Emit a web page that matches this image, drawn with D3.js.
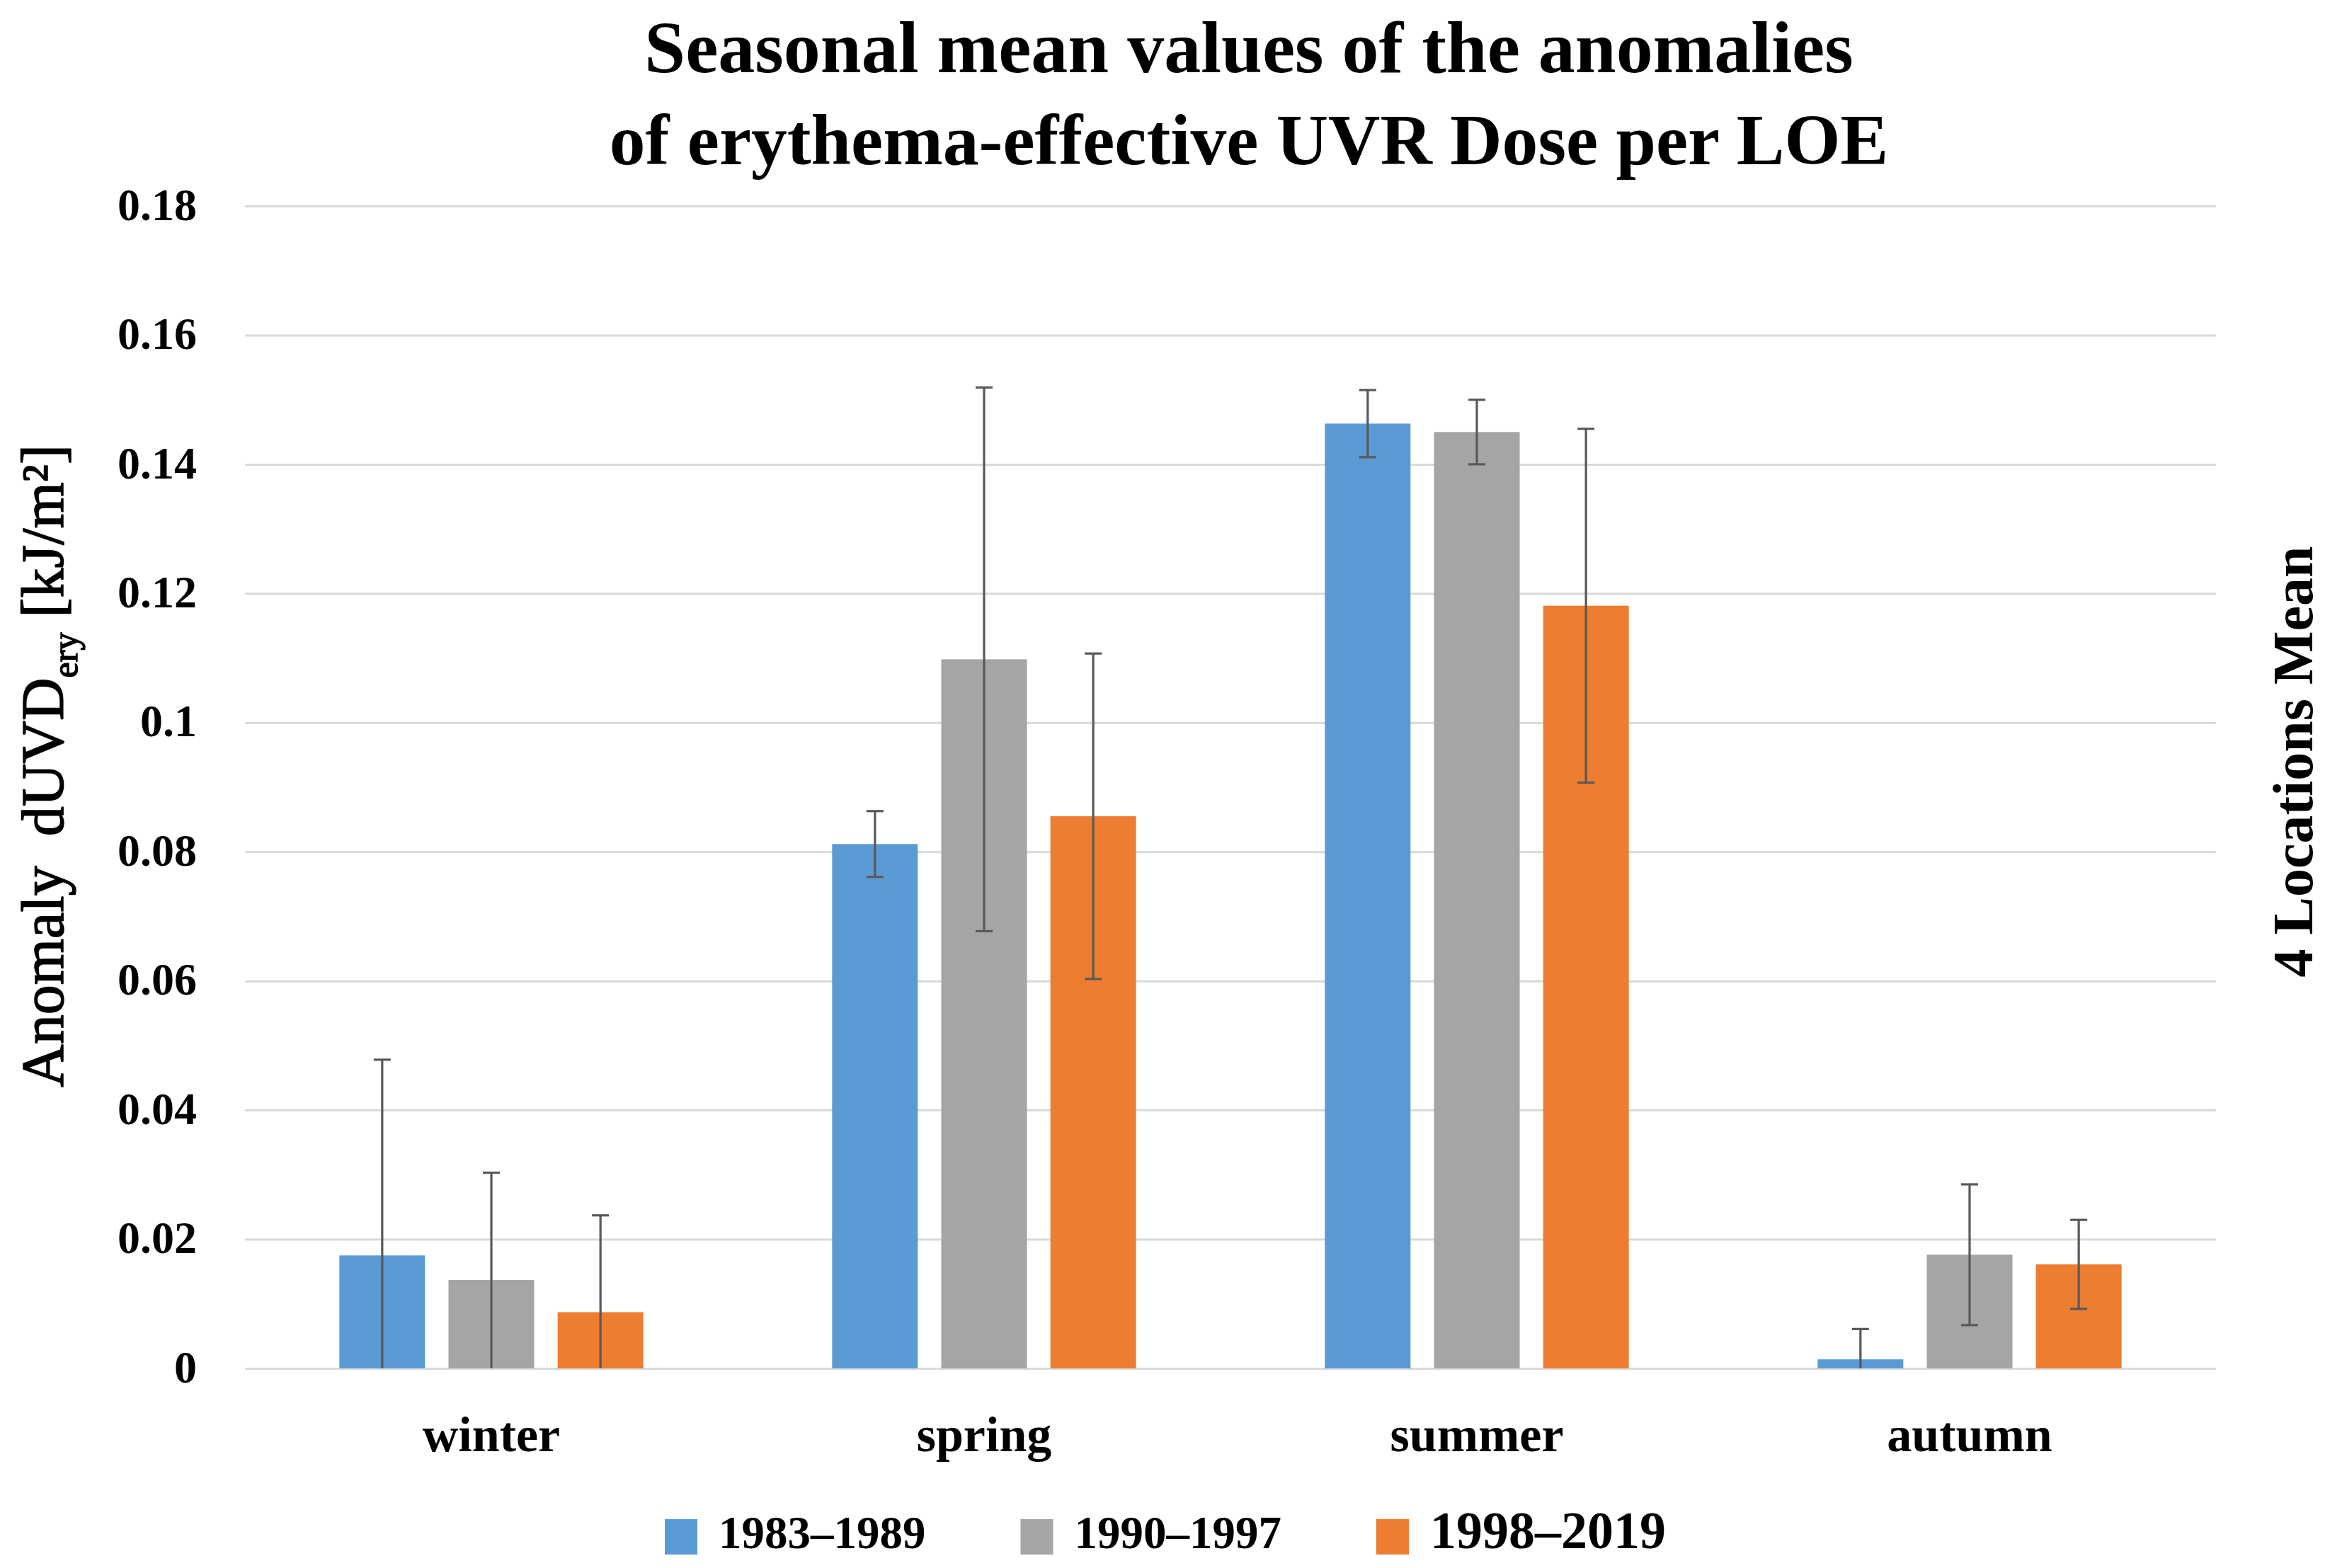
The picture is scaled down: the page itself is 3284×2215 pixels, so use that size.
<!DOCTYPE html>
<html>
<head>
<meta charset="utf-8">
<script src="https://cdn.jsdelivr.net/npm/d3@7"></script>
<style>
  html, body { margin: 0; padding: 0; background: #fff; overflow: hidden; }
  svg { display: block; }
  text { font-family: "Liberation Serif", "Times New Roman", serif; fill: #000; }
  /* the axis title in the original sits between regular and bold, fake it with a thin stroke */
  .semi { stroke: #000; stroke-width: 1.5px; stroke-linejoin: round; }
</style>
</head>
<body>
<svg id="chart"></svg>
<script>
// Chart data
const seasons = ['winter', 'spring', 'summer', 'autumn'];
const periods = ['1983–1989', '1990–1997', '1998–2019'];
const mean1983 = [0.0175, 0.0812, 0.1463, 0.0014];
const mean1990 = [0.0137, 0.1098, 0.1450, 0.0176];
const mean1998 = [0.0087, 0.0855, 0.1181, 0.0161];
const err1983 = [0.0303, 0.0051, 0.0052, 0.0047];
const err1990 = [0.0166, 0.0421, 0.0050, 0.0109];
const err1998 = [0.0150, 0.0252, 0.0274, 0.0069];
const yTickValues = [0, 0.02, 0.04, 0.06, 0.08, 0.1, 0.12, 0.14, 0.16, 0.18];
const colors = ['#5B9BD5', '#A5A5A5', '#ED7D31'];

const width = 3284;
const height = 2215;
const margins = { top: 291, right: 154, bottom: 282, left: 346 };
const innerWidth = width - margins.left - margins.right;
const innerHeight = height - margins.top - margins.bottom;

// flatten into rows the scales can use
const means = [mean1983, mean1990, mean1998];
const errs = [err1983, err1990, err1998];
const rows = [];
seasons.forEach((s, i) => {
  periods.forEach((p, j) => {
    rows.push({ season: s, period: p, value: means[j][i], err: errs[j][i], color: colors[j] });
  });
});

const svg = d3.select('#chart')
  .attr('width', width)
  .attr('height', height);

const g = svg.append('g')
  .attr('transform', `translate(${margins.left},${margins.top})`);

const xScale = d3.scaleBand()
  .domain(seasons)
  .range([0, innerWidth])
  .padding(0);

const xInner = d3.scaleBand()
  .domain(periods)
  .range([0, xScale.bandwidth()])
  .paddingInner(0.215)
  .paddingOuter(0.865);

const yScale = d3.scaleLinear()
  .domain([0, 0.18])
  .range([innerHeight, 0]);

// gridlines + tick labels
const yAxis = d3.axisLeft(yScale)
  .tickValues(yTickValues)
  .tickFormat(d => d === 0 ? '0' : String(+d.toFixed(2)))
  .tickSize(-innerWidth)
  .tickPadding(68);

g.append('g')
  .attr('class', 'y axis')
  .call(yAxis)
  .call(sel => sel.select('.domain').remove())
  .call(sel => sel.selectAll('line').attr('stroke', '#D9D9D9').attr('stroke-width', 3))
  .call(sel => sel.selectAll('text')
    .attr('font-size', 64)
    .attr('font-weight', 'bold')
    .attr('font-family', '"Liberation Serif", serif')
    .attr('fill', '#000')
    .attr('dy', '0.3em'));

// bars
g.selectAll('rect.bar')
  .data(rows)
  .enter()
  .append('rect')
  .attr('class', 'bar')
  .attr('x', d => xScale(d.season) + xInner(d.period))
  .attr('width', xInner.bandwidth())
  .attr('y', d => yScale(d.value))
  .attr('height', d => innerHeight - yScale(d.value))
  .attr('fill', d => d.color);

// error bars (clipped at the axis floor like the original)
const capHalf = 12;
const errG = g.selectAll('g.err')
  .data(rows)
  .enter()
  .append('g')
  .attr('class', 'err')
  .attr('transform', d => `translate(${xScale(d.season) + xInner(d.period) + xInner.bandwidth() / 2},0)`)
  .attr('stroke', '#595959')
  .attr('stroke-width', 3.2);

errG.append('line')
  .attr('y1', d => yScale(d.value + d.err))
  .attr('y2', d => yScale(Math.max(0, d.value - d.err)));

errG.append('line')
  .attr('x1', -capHalf).attr('x2', capHalf)
  .attr('y1', d => yScale(d.value + d.err))
  .attr('y2', d => yScale(d.value + d.err));

errG.filter(d => d.value - d.err > 0)
  .append('line')
  .attr('x1', -capHalf).attr('x2', capHalf)
  .attr('y1', d => yScale(d.value - d.err))
  .attr('y2', d => yScale(d.value - d.err));

// category labels
g.selectAll('text.cat')
  .data(seasons)
  .enter()
  .append('text')
  .attr('class', 'cat')
  .attr('x', d => xScale(d) + xScale.bandwidth() / 2)
  .attr('y', innerHeight + 117)
  .attr('text-anchor', 'middle')
  .attr('font-size', 70)
  .attr('font-weight', 'bold')
  .text(d => d);

// title
svg.append('text')
  .attr('x', 1764).attr('y', 102)
  .attr('text-anchor', 'middle')
  .attr('font-size', 104)
  .attr('font-weight', 'bold')
  .text('Seasonal mean values of the anomalies');
svg.append('text')
  .attr('x', 1764).attr('y', 232)
  .attr('text-anchor', 'middle')
  .attr('font-size', 101.6)
  .attr('font-weight', 'bold')
  .text('of erythema-effective UVR Dose per LOE');

// y axis title
const yTitle = svg.append('text')
  .attr('class', 'semi')
  .attr('transform', `translate(89,1082) rotate(-90)`)
  .attr('text-anchor', 'middle')
  .attr('font-size', 84);
yTitle.append('tspan').text('Anomaly\u00A0\u00A0dUVD');
yTitle.append('tspan').attr('font-size', 50).attr('dy', 20).text('ery');
yTitle.append('tspan').attr('dy', -20).text(' [kJ/m²]');

// right side label
svg.append('text')
  .attr('transform', `translate(3266,1076) rotate(-90)`)
  .attr('text-anchor', 'middle')
  .attr('font-size', 80)
  .attr('font-weight', 'bold')
  .text('4 Locations Mean');

// legend
const legendSizes = [65, 65, 74];
let lx = 939;
periods.forEach((p, i) => {
  const item = svg.append('g').attr('class', 'legend');
  item.append('rect')
    .attr('x', lx).attr('y', 2146)
    .attr('width', 46).attr('height', 50)
    .attr('fill', colors[i]);
  const t = item.append('text')
    .attr('x', lx + 76).attr('y', 2187)
    .attr('font-size', legendSizes[i])
    .attr('font-weight', 'bold')
    .text(p);
  lx += 76 + t.node().getComputedTextLength() + 134;
});
</script>
</body>
</html>
